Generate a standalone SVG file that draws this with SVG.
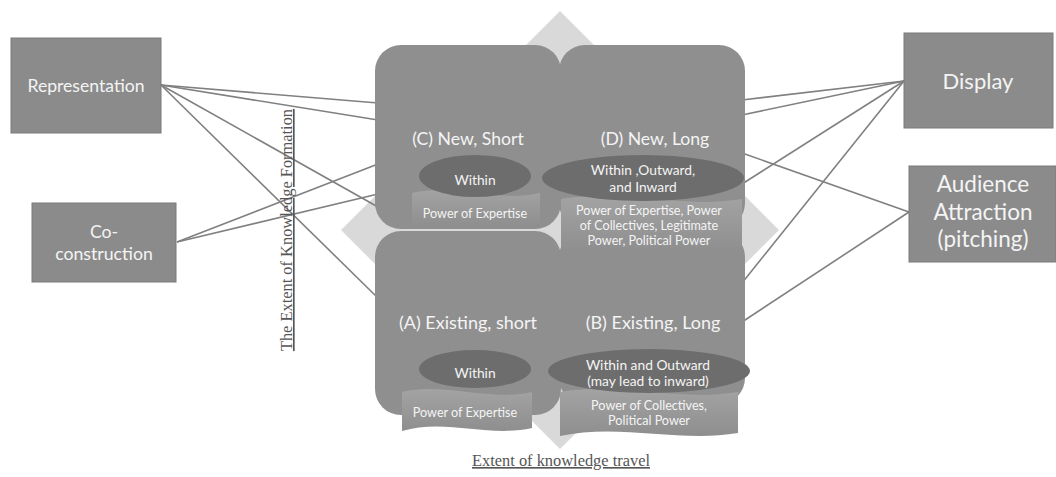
<svg xmlns="http://www.w3.org/2000/svg" width="1056" height="477" viewBox="0 0 1056 477">
<defs>
<linearGradient id="bg" x1="0" y1="0" x2="0" y2="1">
<stop offset="0" stop-color="#a3a3a3"/>
<stop offset="1" stop-color="#8e8e8e"/>
</linearGradient>
<style>
.box{fill:#8b8b8b;stroke:#7a7a7a;stroke-width:1}
.panel{fill:#8f8f8f}
.ell{fill:#6d6d6d}
.ban{fill:url(#bg)}
.conn{stroke:#808080;stroke-width:1.6;fill:none}
.t{font-family:Lato,"Open Sans",sans-serif;fill:#f4f4f4;text-anchor:middle}
.s{font-family:"Liberation Serif",serif;fill:#555;text-anchor:middle;text-decoration:underline}
</style>
</defs>
<rect width="1056" height="477" fill="#fff"/>
<polygon points="560,11 779,230 560,449 341,230" fill="#d9d9d9"/>
<g id="connectors">
<line class="conn" x1="161" y1="85" x2="378" y2="103"/>
<line class="conn" x1="161" y1="85" x2="378" y2="120"/>
<line class="conn" x1="161" y1="85" x2="378" y2="207"/>
<line class="conn" x1="161" y1="85" x2="380" y2="300"/>
<line class="conn" x1="177" y1="242" x2="378" y2="164"/>
<line class="conn" x1="177" y1="242" x2="378" y2="194"/>
<line class="conn" x1="904" y1="81" x2="742" y2="100"/>
<line class="conn" x1="904" y1="81" x2="742" y2="115"/>
<line class="conn" x1="904" y1="81" x2="742" y2="184"/>
<line class="conn" x1="904" y1="81" x2="742" y2="283"/>
<line class="conn" x1="909" y1="212" x2="742" y2="153"/>
<line class="conn" x1="909" y1="212" x2="742" y2="322"/>
</g>
<g id="representation">
<rect class="box" x="11" y="38" width="150" height="95"/>
<text class="t" x="86" y="92" font-size="17.6">Representation</text>
</g>
<g id="co-construction">
<rect class="box" x="32" y="203" width="144" height="79"/>
<text class="t" x="104" y="238" font-size="17.7">Co-</text>
<text class="t" x="104" y="260" font-size="17.7">construction</text>
</g>
<g id="display">
<rect class="box" x="904" y="33" width="149" height="95"/>
<text class="t" x="978" y="89" font-size="22">Display</text>
</g>
<g id="audience">
<rect class="box" x="909" y="166" width="147" height="96"/>
<text class="t" x="983" y="192" font-size="22.5">Audience</text>
<text class="t" x="983" y="220" font-size="22.5">Attraction</text>
<text class="t" x="983" y="247" font-size="22.5">(pitching)</text>
</g>
<g id="panel-a">
<rect class="panel" x="375" y="231" width="186" height="184" rx="26"/>
<text class="t" x="468" y="329" font-size="18">(A) Existing, short</text>
</g>
<g id="panel-b">
<rect class="panel" x="559" y="231" width="186" height="173" rx="26"/>
<text class="t" x="653" y="329" font-size="18">(B) Existing, Long</text>
</g>
<g id="panel-c">
<rect class="panel" x="375" y="45" width="186" height="184" rx="26"/>
<text class="t" x="468" y="145" font-size="17.6">(C) New, Short</text>
</g>
<g id="panel-d">
<rect class="panel" x="559" y="45" width="186" height="184" rx="26"/>
<text class="t" x="655" y="145" font-size="17.6">(D) New, Long</text>
</g>
<g id="c-power">
<path class="ban" d="M412,193 C455,183 497,203 540,193 L540,224 C497,234 455,214 412,226 Z"/>
<text class="t" x="475" y="218" font-size="12.6">Power of Expertise</text>
</g>
<g id="c-within">
<ellipse class="ell" cx="475" cy="176" rx="56" ry="21"/>
<text class="t" x="475" y="185" font-size="13.8">Within</text>
</g>
<g id="d-power">
<path class="ban" d="M561,199 C621,189 681,209 742,199 L742,250 C681,260 621,240 561,252 Z"/>
<text class="t" x="649" y="215" font-size="12.6">Power of Expertise, Power</text>
<text class="t" x="649" y="230" font-size="12.6">of Collectives, Legitimate</text>
<text class="t" x="649" y="245" font-size="12.6">Power, Political Power</text>
</g>
<g id="d-within">
<ellipse class="ell" cx="643" cy="178" rx="101" ry="23"/>
<text class="t" x="643" y="175" font-size="13.8">Within ,Outward,</text>
<text class="t" x="643" y="192" font-size="13.8">and Inward</text>
</g>
<g id="a-power">
<path class="ban" d="M402,392 C445,382 489,402 532,392 L532,428 C489,438 445,418 402,431 Z"/>
<text class="t" x="465" y="417" font-size="12.6">Power of Expertise</text>
</g>
<g id="a-within">
<ellipse class="ell" cx="475" cy="369" rx="56" ry="19"/>
<text class="t" x="475" y="378" font-size="13.8">Within</text>
</g>
<g id="b-power">
<path class="ban" d="M560,392 C619,382 679,402 738,392 L738,433 C679,443 619,423 560,436 Z"/>
<text class="t" x="649" y="410" font-size="12.6">Power of Collectives,</text>
<text class="t" x="649" y="425" font-size="12.6">Political Power</text>
</g>
<g id="b-within">
<ellipse class="ell" cx="649" cy="371" rx="101" ry="22"/>
<text class="t" x="648" y="370" font-size="13.8">Within and Outward</text>
<text class="t" x="648" y="386" font-size="13.8">(may lead to inward)</text>
</g>
<g id="axis-labels">
<text class="s" x="561" y="466" font-size="16.4">Extent of knowledge travel</text>
<text class="s" x="292" y="230" font-size="16.4" transform="rotate(-90 292 230)">The Extent of Knowledge Formation</text>
</g>
</svg>
